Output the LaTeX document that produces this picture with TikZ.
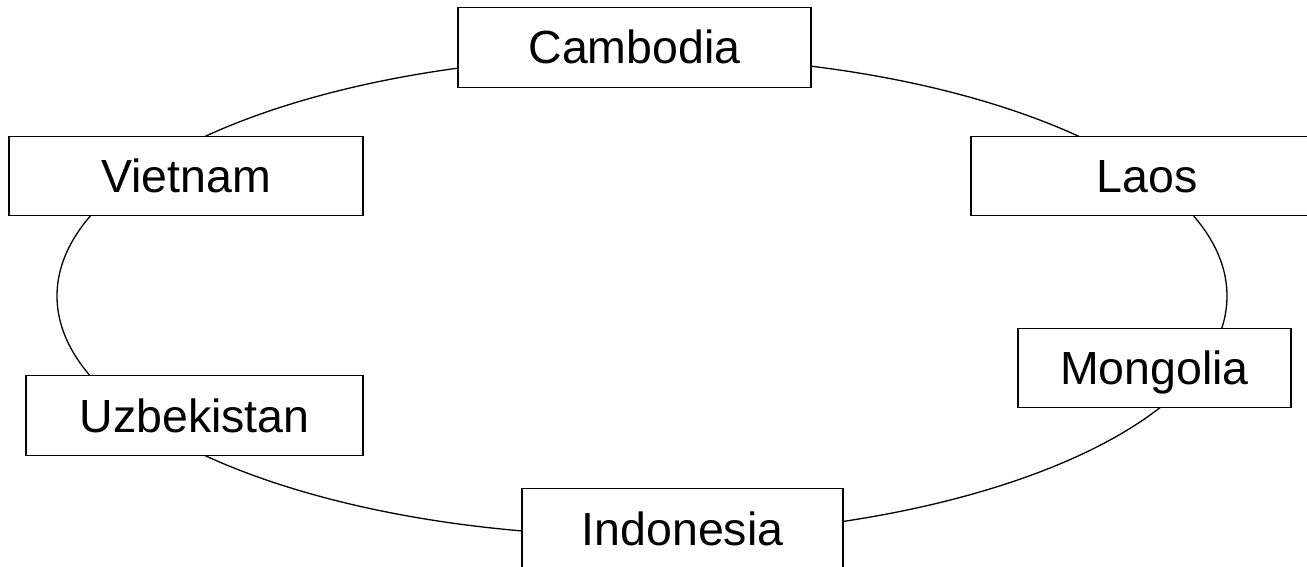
\documentclass[tikz,border=0pt]{standalone}
\usepackage{fontspec}
\setmainfont{Liberation Sans}
\begin{document}
\begin{tikzpicture}[x=1pt,y=-1pt,
  box/.style={draw, fill=white, line width=1.2pt, minimum height=79.5pt, inner sep=0pt,
    text height=33pt, text depth=0pt, font=\fontsize{46.5}{50}\selectfont},
  ring/.style={line width=1.3pt}]
\useasboundingbox (0,0) rectangle (1307,567);
\coordinate (c) at (642,296);
\draw[ring] (c) ellipse [x radius=585pt, y radius=240pt];
\node[box, minimum width=353pt] (cambodia) at (634.5,47.5) {Cambodia};
\node[box, minimum width=354pt] (vietnam) at (186,176) {Vietnam};
\node[box, minimum width=352pt] (laos) at (1147,176) {Laos};
\node[box, minimum width=337pt] (uzbekistan) at (194.5,415.5) {Uzbekistan};
\node[box, minimum width=273pt] (mongolia) at (1154.5,368) {Mongolia};
\node[box, minimum width=321pt] (indonesia) at (682.5,528.5) {Indonesia};
\end{tikzpicture}
\end{document}
